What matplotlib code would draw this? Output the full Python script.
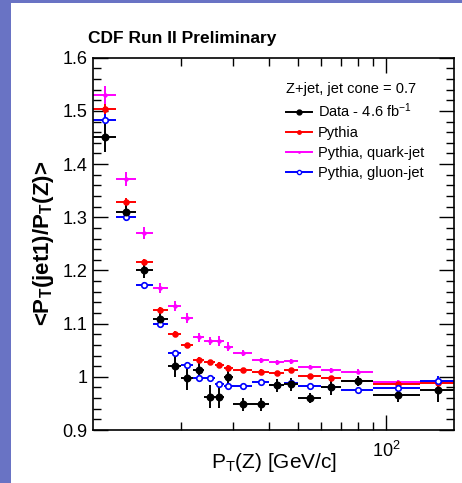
import numpy as np
import matplotlib
matplotlib.use('Agg')
import matplotlib.pyplot as plt
from matplotlib.patches import Rectangle
from matplotlib.lines import Line2D

plt.rcParams['font.family'] = ['Liberation Sans', 'DejaVu Sans']
plt.rcParams['mathtext.default'] = 'regular'

# bin edges of P_T(Z) [GeV/c]
bin_edges = [10, 12, 14, 16, 18, 20, 22, 24, 26, 28, 30, 35, 40, 45, 50, 60, 70, 90, 130, 170]

data_y = [1.451, 1.309, 1.200, 1.109, 1.020, 0.998, 1.012, 0.963, 0.962, 1.000,
          0.948, 0.948, 0.984, 0.986, 0.960, 0.981, 0.992, 0.966, 0.975]
data_err = [0.028, 0.015, 0.014, 0.013, 0.020, 0.022, 0.020, 0.022, 0.020, 0.018,
            0.012, 0.012, 0.012, 0.012, 0.010, 0.015, 0.010, 0.013, 0.023]

pythia_y = [1.503, 1.329, 1.215, 1.126, 1.081, 1.059, 1.032, 1.027, 1.023, 1.017,
            1.012, 1.010, 1.007, 1.012, 1.002, 0.998, 0.993, 0.986, 0.989]
pythia_err = [0.010, 0.008, 0.007, 0.006, 0.005, 0.005, 0.005, 0.005, 0.005, 0.005,
              0.004, 0.004, 0.004, 0.004, 0.003, 0.003, 0.003, 0.003, 0.003]

quark_y = [1.530, 1.372, 1.271, 1.167, 1.133, 1.111, 1.074, 1.067, 1.067, 1.057,
           1.045, 1.031, 1.027, 1.029, 1.018, 1.012, 1.010, 0.990, 0.990]
quark_err = [0.017, 0.013, 0.011, 0.010, 0.010, 0.009, 0.008, 0.008, 0.009, 0.008,
             0.006, 0.005, 0.005, 0.005, 0.004, 0.004, 0.004, 0.004, 0.004]

gluon_y = [1.483, 1.300, 1.172, 1.099, 1.044, 1.022, 0.998, 0.997, 0.987, 0.983,
           0.982, 0.990, 0.985, 0.988, 0.983, 0.981, 0.975, 0.979, 0.993]
gluon_err = [0.012, 0.007, 0.006, 0.006, 0.006, 0.006, 0.005, 0.005, 0.005, 0.004,
             0.004, 0.004, 0.004, 0.004, 0.003, 0.003, 0.003, 0.004, 0.008]

edges = np.array(bin_edges, dtype=float)
x = (edges[:-1] + edges[1:]) / 2
xerr = [x - edges[:-1], edges[1:] - x]

fig = plt.figure(figsize=(4.62, 4.83), dpi=100)
fig.patch.set_facecolor('#6973c4')
# white slide area
fig.add_artist(Rectangle((11 / 462, 0), 1, 1 - 3 / 483, transform=fig.transFigure,
                         facecolor='white', edgecolor='none', zorder=0))

ax = fig.add_axes([0.2006, 0.1097, 0.7821, 0.7708])

series = [
    (quark_y, quark_err, '#ff00ff', 2.0, 'Pythia, quark-jet', True),
    (pythia_y, pythia_err, '#ff0000', 3.5, 'Pythia', True),
    (gluon_y, gluon_err, '#0000ff', 4.0, 'Pythia, gluon-jet', False),
    (data_y, data_err, 'black', 4.5, 'Data - 4.6 fb$^{-1}$', True),
]
handles = {}
for y, yerr, c, ms, lab, filled in series:
    mfc = c if filled else 'white'
    ax.errorbar(x, y, xerr=xerr, yerr=yerr, fmt='o', color=c, ms=ms,
                mfc=mfc, mec=c, mew=1.2, elinewidth=1.4, capsize=0)
    handles[lab] = Line2D([], [], color=c, lw=1.4, marker='o', ms=ms - 1,
                          mfc=mfc, mec=c, mew=1.0)

ax.set_xscale('log')
ax.set_xlim(10, 170)
ax.set_ylim(0.9, 1.6)

ax.set_xticks([100])
ax.set_xticklabels(['$10^{2}$'])
ax.set_xticks([20, 30, 40, 50, 60, 70, 80, 90], minor=True)
ax.set_xticklabels([], minor=True)
ax.set_yticks(np.arange(0.9, 1.61, 0.1))
ax.set_yticklabels(['0.9', '1', '1.1', '1.2', '1.3', '1.4', '1.5', '1.6'])
ax.set_yticks(np.arange(0.9, 1.6, 0.02), minor=True)
ax.tick_params(which='both', direction='in', top=True, right=True, labelsize=13, width=1)
ax.tick_params(which='major', length=11)
ax.tick_params(which='minor', length=6)
ax.tick_params(axis='x', which='major', pad=8)
for s in ax.spines.values():
    s.set_linewidth(1.2)

fig.text(274 / 462, 1 - 462 / 483, 'P$_{T}$(Z) [GeV/c]', fontsize=15,
         ha='center', va='center')
ax.set_ylabel('<P$_{T}$(jet1)/P$_{T}$(Z)>', fontsize=16, fontweight='bold', labelpad=5)
fig.text(87.7 / 462, 1 - 38 / 483, 'CDF Run II Preliminary', fontsize=12.5,
         fontweight='bold', ha='left', va='center')

order = ['Data - 4.6 fb$^{-1}$', 'Pythia', 'Pythia, quark-jet', 'Pythia, gluon-jet']
leg = ax.legend([handles[k] for k in order], order, loc='upper left',
                bbox_to_anchor=(0.535, 0.935), frameon=False, fontsize=10.5,
                title='Z+jet, jet cone = 0.7', title_fontsize=10.5, alignment='left',
                handlelength=1.8, labelspacing=0.4, handletextpad=0.4,
                borderaxespad=0, borderpad=0)

fig.savefig('out.png', dpi=100, facecolor=fig.get_facecolor())
